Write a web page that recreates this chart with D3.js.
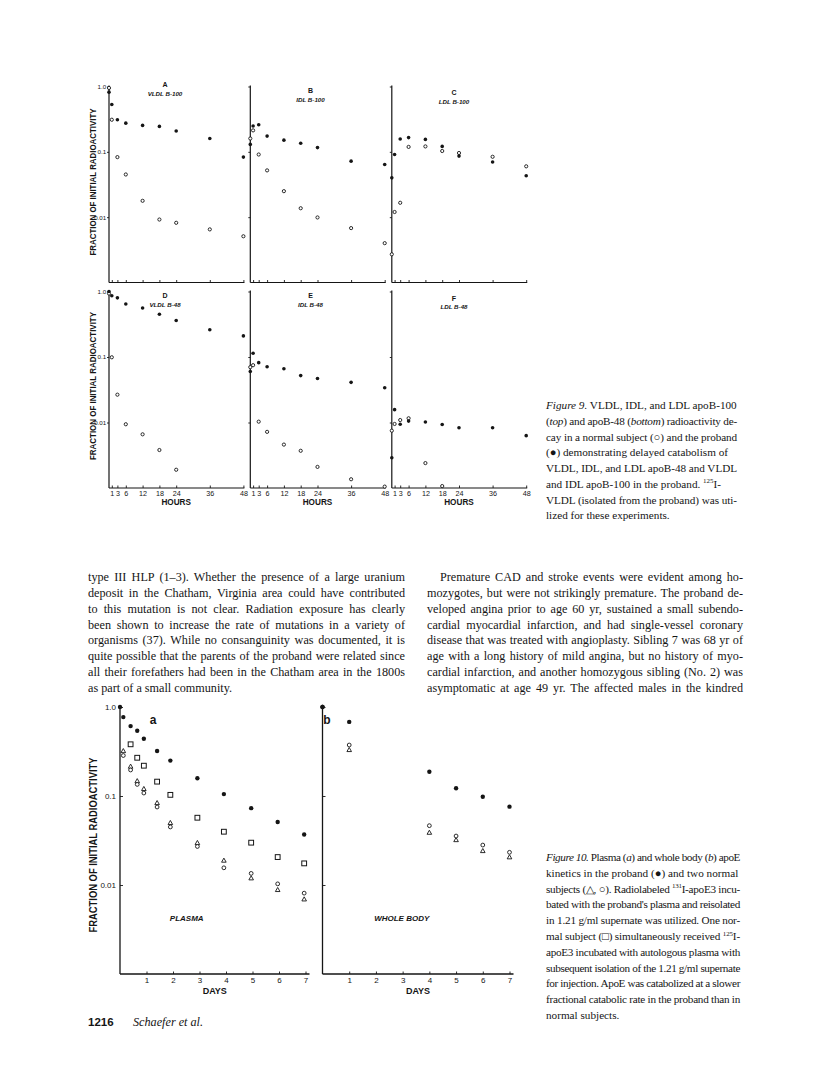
<!DOCTYPE html>
<html><head><meta charset="utf-8">
<script src="https://cdn.jsdelivr.net/npm/d3@7"></script>
<style>
body{margin:0;background:#fff;}
svg{display:block;}
</style></head><body>
<svg id="page" width="816" height="1075"></svg>
<script>
// ================= DATA =================
// Figure 9 (hours after injection, fraction of initial radioactivity)
const hours = [0, 1, 3, 6, 12, 18, 24, 36, 48];
const hourTicks = [1, 3, 6, 12, 18, 24, 36, 48];
const fracTicks = [1, 0.1, 0.01];
const fracTickLabels = ["1.0", "0.1", "0.01"];
const panelLetters = ["A", "B", "C", "D", "E", "F"];
const panelNames = ["VLDL B-100", "IDL B-100", "LDL B-100", "VLDL B-48", "IDL B-48", "LDL B-48"];

const vldlB100Proband = [0.82, 0.53, 0.31, 0.275, 0.254, 0.245, 0.208, 0.16, 0.083];
const vldlB100Normal  = [0.95, 0.31, 0.083, 0.045, 0.0178, 0.0092, 0.0082, 0.0065, 0.0051];
const idlB100Proband  = [0.13, 0.248, 0.26, 0.174, 0.151, 0.135, 0.116, 0.072, 0.064];
const idlB100Normal   = [0.16, 0.213, 0.091, 0.052, 0.025, 0.0137, 0.0099, 0.0068, 0.004];
const ldlB100Proband  = [0.04, 0.091, 0.157, 0.165, 0.155, 0.121, 0.086, 0.07, 0.043];
const ldlB100Normal   = [0.0027, 0.012, 0.0166, 0.119, 0.121, 0.103, 0.096, 0.084, 0.06];
const vldlB48Proband  = [1.0, 0.86, 0.80, 0.645, 0.56, 0.45, 0.36, 0.26, 0.21];
const vldlB48Normal   = [0.93, 0.099, 0.0266, 0.0094, 0.0066, 0.0038, 0.0019, null, null];
const idlB48Proband   = [0.06, 0.114, 0.082, 0.071, 0.066, 0.052, 0.047, 0.041, 0.034];
const idlB48Normal    = [0.07, 0.075, 0.0103, 0.0072, 0.0046, 0.0037, 0.0021, 0.00136, 0.00105];
const ldlB48Proband   = [0.0029, 0.0157, 0.0094, 0.0105, 0.0102, 0.0093, 0.0083, 0.0083, 0.0063];
const ldlB48Normal    = [0.0075, 0.0095, 0.0109, 0.0116, 0.0024, 0.00107, null, null, null];

const fig9Proband = [vldlB100Proband, idlB100Proband, ldlB100Proband, vldlB48Proband, idlB48Proband, ldlB48Proband];
const fig9Normal  = [vldlB100Normal, idlB100Normal, ldlB100Normal, vldlB48Normal, idlB48Normal, ldlB48Normal];

// Figure 10 (days)
const dayTicks = [1, 2, 3, 4, 5, 6, 7];
const plasmaDays     = [0, 0.125, 0.4, 0.65, 0.9, 1.4, 1.9, 2.92, 3.92, 4.95, 5.95, 6.95];
const plasmaProband  = [1.0, 0.77, 0.61, 0.54, 0.44, 0.32, 0.25, 0.158, 0.105, 0.073, 0.051, 0.037];
const plasmaSquare   = [null, null, 0.381, 0.269, 0.219, 0.145, 0.103, 0.057, 0.0397, 0.0299, 0.0206, 0.0175];
const plasmaTriangle = [null, 0.32, 0.214, 0.147, 0.12, 0.0834, 0.0498, 0.0297, 0.0188, 0.0119, 0.0088, 0.0069];
const plasmaCircle   = [null, 0.285, 0.196, 0.135, 0.108, 0.0752, 0.0449, 0.0271, 0.0156, 0.0135, 0.0103, 0.0081];

const wbDays     = [0, 1, 4, 5, 6, 7];
const wbProband  = [1.0, 0.68, 0.1875, 0.122, 0.098, 0.0759];
const wbCircle   = [1.0, 0.374, 0.0464, 0.0355, 0.0281, 0.0233];
const wbTriangle = [null, 0.329, 0.0387, 0.032, 0.0241, 0.0205];

// Text
const leftColumn = [
  "type III HLP (1–3). Whether the presence of a large uranium",
  "deposit in the Chatham, Virginia area could have contributed",
  "to this mutation is not clear. Radiation exposure has clearly",
  "been shown to increase the rate of mutations in a variety of",
  "organisms (37). While no consanguinity was documented, it is",
  "quite possible that the parents of the proband were related since",
  "all their forefathers had been in the Chatham area in the 1800s",
  "as part of a small community."
];
const rightColumn = [
  "Premature CAD and stroke events were evident among ho-",
  "mozygotes, but were not strikingly premature. The proband de-",
  "veloped angina prior to age 60 yr, sustained a small subendo-",
  "cardial myocardial infarction, and had single-vessel coronary",
  "disease that was treated with angioplasty. Sibling 7 was 68 yr of",
  "age with a long history of mild angina, but no history of myo-",
  "cardial infarction, and another homozygous sibling (No. 2) was",
  "asymptomatic at age 49 yr. The affected males in the kindred"
];
const fig9Caption = [
  [{i: "Figure 9."}, " VLDL, IDL, and LDL apoB-100"],
  ["(", {i: "top"}, ") and apoB-48 (", {i: "bottom"}, ") radioactivity de-"],
  ["cay in a normal subject (○) and the proband"],
  ["(●) demonstrating delayed catabolism of"],
  ["VLDL, IDL, and LDL apoB-48 and VLDL"],
  ["and IDL apoB-100 in the proband. ", {sup: "125"}, "I-"],
  ["VLDL (isolated from the proband) was uti-"],
  ["lized for these experiments."]
];
const fig10Caption = [
  [{i: "Figure 10."}, " Plasma (", {i: "a"}, ") and whole body (", {i: "b"}, ") apoE"],
  ["kinetics in the proband (●) and two normal"],
  ["subjects (△, ○). Radiolabeled ", {sup: "131"}, "I-apoE3 incu-"],
  ["bated with the proband's plasma and reisolated"],
  ["in 1.21 g/ml supernate was utilized. One nor-"],
  ["mal subject (□) simultaneously received ", {sup: "125"}, "I-"],
  ["apoE3 incubated with autologous plasma with"],
  ["subsequent isolation of the 1.21 g/ml supernate"],
  ["for injection. ApoE was catabolized at a slower"],
  ["fractional catabolic rate in the proband than in"],
  ["normal subjects."]
];

// ================= DRAWING =================
const ink = "#151515";
const SANS = "'Liberation Sans', Arial, Helvetica, sans-serif";
const SERIF = "'Liberation Serif', 'Times New Roman', serif";
const svg = d3.select("#page");
svg.append("rect").attr("width", 816).attr("height", 1075).attr("fill", "#fff");

function styleAxis(g, fs) {
  g.selectAll(".domain").remove();
  g.selectAll(".tick line").attr("stroke", ink).attr("stroke-width", 0.9);
  g.selectAll(".tick text").attr("fill", ink).attr("font-family", SANS).attr("font-size", fs);
}

// ----- Figure 9 -----
const f9Lefts = [109, 250.3, 391.8];
const f9Width = 134.4;
const f9Rows = [[282.5, 86.5], [488, 291.5]];

panelLetters.forEach((letter, i) => {
  const col = i % 3, row = Math.floor(i / 3);
  const x = d3.scaleLinear().domain([0, 48]).range([f9Lefts[col], f9Lefts[col] + f9Width]);
  const y = d3.scaleLog().domain([0.001, 1]).range(f9Rows[row]);
  const g = svg.append("g");

  g.append("line").attr("x1", x(0)).attr("x2", x(0)).attr("y1", y(1) - 1).attr("y2", y(0.001))
    .attr("stroke", ink).attr("stroke-width", 1.2);
  g.append("line").attr("x1", x(0)).attr("x2", x(48) + 1).attr("y1", y(0.001)).attr("y2", y(0.001))
    .attr("stroke", ink).attr("stroke-width", 1.2);

  const ya = d3.axisLeft(y).tickValues(fracTicks).tickSize(2).tickPadding(0.8)
    .tickFormat((d, k) => col === 0 ? fracTickLabels[k] : "");
  g.append("g").attr("transform", `translate(${x(0)},0)`).call(ya).call(s => styleAxis(s, 6.2));

  const xa = d3.axisBottom(x).tickValues(hourTicks).tickSize(-2.5).tickPadding(2.5)
    .tickFormat(d => row === 1 ? d3.format("d")(d) : "");
  g.append("g").attr("transform", `translate(0,${y(0.001)})`).call(xa).call(s => styleAxis(s, 7.2));

  if (row === 1) {
    g.append("text").attr("x", x(24)).attr("y", 505).attr("text-anchor", "middle")
      .attr("font-family", SANS).attr("font-weight", "bold").attr("font-size", 8.2).attr("fill", ink).text("HOURS");
  }

  const tx = [165, 310.5, 454][col];
  const ty = row === 0 ? [87, 93, 95][col] : [298, 298, 300.5][col];
  g.append("text").attr("x", tx).attr("y", ty).attr("text-anchor", "middle")
    .attr("font-family", SANS).attr("font-weight", "bold").attr("font-size", 7).attr("fill", ink).text(letter);
  g.append("text").attr("x", tx).attr("y", ty + 8.5).attr("text-anchor", "middle")
    .attr("font-family", SANS).attr("font-style", "italic").attr("font-weight", "bold").attr("font-size", 6.2)
    .attr("fill", ink).text(panelNames[i]);

  const norm = hours.map((h, k) => [h, fig9Normal[i][k]]).filter(d => d[1] != null);
  const prob = hours.map((h, k) => [h, fig9Proband[i][k]]).filter(d => d[1] != null);
  g.selectAll("circle.o").data(norm).join("circle").attr("class", "o")
    .attr("cx", d => x(d[0])).attr("cy", d => y(d[1])).attr("r", 1.6)
    .attr("fill", "#fff").attr("stroke", ink).attr("stroke-width", 0.9);
  g.selectAll("circle.p").data(prob).join("circle").attr("class", "p")
    .attr("cx", d => x(d[0])).attr("cy", d => y(d[1])).attr("r", 1.8).attr("fill", ink);
});

function yLabel(cx, cy, len, fs) {
  svg.append("text").attr("transform", `translate(${cx},${cy}) rotate(-90)`)
    .attr("text-anchor", "middle").attr("dominant-baseline", "central")
    .attr("font-family", SANS).attr("font-weight", "bold").attr("font-size", fs)
    .attr("textLength", len).attr("lengthAdjust", "spacingAndGlyphs").attr("fill", ink)
    .text("FRACTION OF INITIAL RADIOACTIVITY");
}
yLabel(92.5, 182, 147, 8.4);
yLabel(92.5, 386, 148, 8.4);

// ----- Figure 10 -----
const y10 = d3.scaleLog().domain([0.001, 1]).range([974, 707]);
const xPlasma = d3.scaleLinear().domain([0, 7]).range([120, 305.5]);
const xWB = d3.scaleLinear().domain([0, 7]).range([322.5, 509.5]);

function fig10Panel(x, showLabels, letter, letterX, name, nameX, series) {
  const g = svg.append("g");
  g.append("line").attr("x1", x(0)).attr("x2", x(0)).attr("y1", y10(1) - 1).attr("y2", y10(0.001))
    .attr("stroke", ink).attr("stroke-width", 1.3);
  g.append("line").attr("x1", x(0)).attr("x2", x(7) + 4).attr("y1", y10(0.001)).attr("y2", y10(0.001))
    .attr("stroke", ink).attr("stroke-width", 1.3);
  const ya = d3.axisLeft(y10).tickValues(fracTicks).tickSize(-3).tickPadding(4)
    .tickFormat((d, k) => showLabels ? fracTickLabels[k] : "");
  g.append("g").attr("transform", `translate(${x(0)},0)`).call(ya).call(s => styleAxis(s, 8));
  const xa = d3.axisBottom(x).tickValues(dayTicks).tickSize(-2.5).tickPadding(3.5).tickFormat(d3.format("d"));
  g.append("g").attr("transform", `translate(0,${y10(0.001)})`).call(xa).call(s => styleAxis(s, 8));
  g.append("text").attr("x", (x(0) + x(7)) / 2 + 2).attr("y", 993.5).attr("text-anchor", "middle")
    .attr("font-family", SANS).attr("font-weight", "bold").attr("font-size", 9).attr("fill", ink).text("DAYS");
  g.append("text").attr("x", letterX).attr("y", 724).attr("text-anchor", "middle")
    .attr("font-family", SANS).attr("font-weight", "bold").attr("font-size", 12).attr("fill", ink).text(letter);
  g.append("text").attr("x", nameX).attr("y", 921).attr("text-anchor", "middle")
    .attr("font-family", SANS).attr("font-weight", "bold").attr("font-style", "italic").attr("font-size", 8)
    .attr("fill", ink).text(name);

  series.forEach(s => {
    const pts = s.days.map((d, k) => [d, s.vals[k]]).filter(p => p[1] != null);
    const sel = g.selectAll(null).data(pts).join(s.shape === "rect" ? "rect" : s.shape === "tri" ? "path" : "circle");
    if (s.shape === "rect") {
      sel.attr("x", p => x(p[0]) - 2.4).attr("y", p => y10(p[1]) - 2.4).attr("width", 4.8).attr("height", 4.8)
        .attr("fill", "#fff").attr("stroke", ink).attr("stroke-width", 1);
    } else if (s.shape === "tri") {
      sel.attr("d", p => `M${x(p[0])},${y10(p[1]) - 2.5}L${x(p[0]) + 2.3},${y10(p[1]) + 1.6}L${x(p[0]) - 2.3},${y10(p[1]) + 1.6}Z`)
        .attr("fill", "#fff").attr("stroke", ink).attr("stroke-width", 0.9);
    } else if (s.shape === "open") {
      sel.attr("cx", p => x(p[0])).attr("cy", p => y10(p[1])).attr("r", 1.9)
        .attr("fill", "#fff").attr("stroke", ink).attr("stroke-width", 0.9);
    } else {
      sel.attr("cx", p => x(p[0])).attr("cy", p => y10(p[1])).attr("r", 2.2).attr("fill", ink);
    }
  });
}
fig10Panel(xPlasma, true, "a", 153, "PLASMA", 186.7, [
  {days: plasmaDays, vals: plasmaSquare, shape: "rect"},
  {days: plasmaDays, vals: plasmaTriangle, shape: "tri"},
  {days: plasmaDays, vals: plasmaCircle, shape: "open"},
  {days: plasmaDays, vals: plasmaProband, shape: "fill"}
]);
fig10Panel(xWB, false, "b", 327, "WHOLE BODY", 401.7, [
  {days: wbDays, vals: wbTriangle, shape: "tri"},
  {days: wbDays, vals: wbCircle, shape: "open"},
  {days: wbDays, vals: wbProband, shape: "fill"}
]);
yLabel(93, 845, 175, 10.2);

// ----- Text -----
function richLine(x, y, segs, size, width, maxW) {
  const t = svg.append("text").attr("x", x).attr("y", y).attr("font-family", SERIF)
    .attr("font-size", size).attr("fill", ink);
  let pendingDy = 0;
  let full = "";
  segs.forEach(s => {
    const ts = t.append("tspan");
    if (pendingDy) { ts.attr("dy", pendingDy); pendingDy = 0; }
    if (typeof s === "string") { ts.text(s); full += s; }
    else if (s.i) { ts.attr("font-style", "italic").text(s.i); full += s.i; }
    else if (s.sup) { ts.attr("font-size", size * 0.62).attr("dy", -4.5).text(s.sup); pendingDy = 4.5; full += s.sup; }
  });
  const len = t.node().getComputedTextLength();
  if (width) {
    const spaces = (full.match(/ /g) || []).length;
    if (spaces > 0) t.attr("word-spacing", (width - len) / spaces);
  } else if (maxW && len > maxW) {
    t.attr("letter-spacing", (maxW - len) / full.length);
  }
  return t;
}

const bodySize = 12.2, lh = 15.85;
leftColumn.forEach((line, k) => {
  richLine(88, 581 + k * lh, [line], bodySize, k < leftColumn.length - 1 ? 317 : null);
});
rightColumn.forEach((line, k) => {
  const x0 = k === 0 ? 440 : 427;
  richLine(x0, 581 + k * lh, [line], bodySize, 743 - x0);
});

const capSize = 11.2;
fig9Caption.forEach((segs, k) => richLine(546, 409 + k * 15.75, segs, capSize, null, 191));
fig10Caption.forEach((segs, k) => richLine(546, 861 + k * 15.8, segs, capSize, null, 194));

// footer
svg.append("text").attr("x", 88).attr("y", 1026).attr("font-family", SANS).attr("font-weight", "bold")
  .attr("font-size", 11.5).attr("fill", ink).text("1216");
svg.append("text").attr("x", 133).attr("y", 1026).attr("font-family", SERIF).attr("font-style", "italic")
  .attr("font-size", 12.2).attr("fill", ink).text("Schaefer et al.");
</script></body></html>
